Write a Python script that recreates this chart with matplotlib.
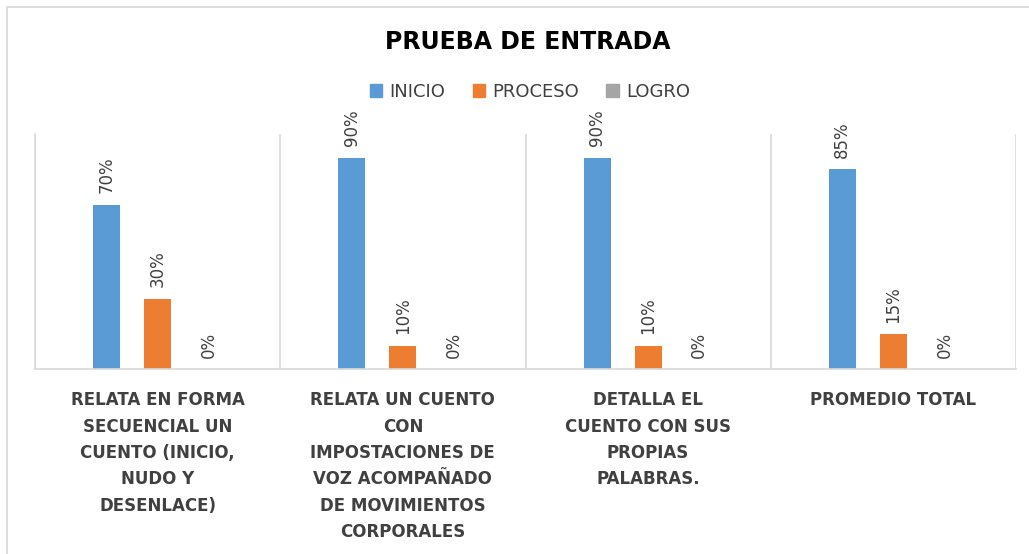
import numpy as np
import matplotlib
matplotlib.use('Agg')
import matplotlib.pyplot as plt
from matplotlib.patches import Rectangle, Patch

# Data
categories = ['RELATA EN FORMA\nSECUENCIAL UN\nCUENTO (INICIO,\nNUDO Y\nDESENLACE)',
              'RELATA UN CUENTO\nCON\nIMPOSTACIONES DE\nVOZ ACOMPAÑADO\nDE MOVIMIENTOS\nCORPORALES',
              'DETALLA EL\nCUENTO CON SUS\nPROPIAS\nPALABRAS.',
              'PROMEDIO TOTAL']
series_names = ['INICIO', 'PROCESO', 'LOGRO']
inicio = [0.70, 0.90, 0.90, 0.85]
proceso = [0.30, 0.10, 0.10, 0.15]
logro = [0.0, 0.0, 0.0, 0.0]

colors = ['#5B9BD5', '#ED7D31', '#A5A5A5']
text_col = '#404040'
grid_col = '#D9D9D9'

plt.rcParams['font.family'] = ['DejaVu Sans']

fig = plt.figure(figsize=(10.29, 5.54), dpi=100)
ax = fig.add_axes([35 / 1029, 1 - 369 / 554, (1016 - 35) / 1029, (369 - 134) / 554])

# outer chart border
fig.patches.append(Rectangle((7 / 1029, -0.1), 1.2, 1.1 - 7 / 554, transform=fig.transFigure,
                             fill=False, edgecolor=grid_col, linewidth=1.2))

x = np.arange(len(categories))
width = 0.11
step = 0.208
for i, (vals, col) in enumerate(zip([inicio, proceso, logro], colors)):
    xs = x + (i - 1) * step
    ax.bar(xs, vals, width, color=col)
    for xi, v in zip(xs, vals):
        ax.annotate(f'{v:.0%}', (xi, v), xytext=(0, 8), textcoords='offset points',
                    rotation=90, ha='center', va='bottom', fontsize=12, color=text_col)

ax.set_xlim(-0.5, len(categories) - 0.5)
ax.set_ylim(0, 1.0)
ax.set_yticks([])
ax.set_xticks(x)
ax.set_xticklabels(categories, fontsize=12, fontweight='bold', color=text_col, linespacing=1.6)
ax.tick_params(axis='x', length=0, pad=16)
ax.set_xticks(np.arange(-0.5, len(categories)), minor=True)
ax.tick_params(axis='x', which='minor', length=0)
ax.grid(which='minor', axis='x', color=grid_col, linewidth=1.2)
for s in ['top', 'right']:
    ax.spines[s].set_visible(False)
ax.spines['left'].set_color(grid_col)
ax.spines['bottom'].set_color(grid_col)
ax.spines['left'].set_linewidth(1.2)
ax.spines['bottom'].set_linewidth(1.2)

fig.text(0.513, 1 - 42 / 554, 'PRUEBA DE ENTRADA', ha='center', va='center',
         fontsize=17, fontweight='bold', color='black')

handles = [Patch(color=c, label=n) for c, n in zip(colors, series_names)]
fig.legend(handles=handles, loc='center', bbox_to_anchor=(0.515, 1 - 92 / 554), ncol=3,
           frameon=False, fontsize=13, handlelength=0.7, handleheight=0.7,
           handletextpad=0.4, columnspacing=1.5, labelcolor=text_col)

fig.savefig('out.png', dpi=100)
